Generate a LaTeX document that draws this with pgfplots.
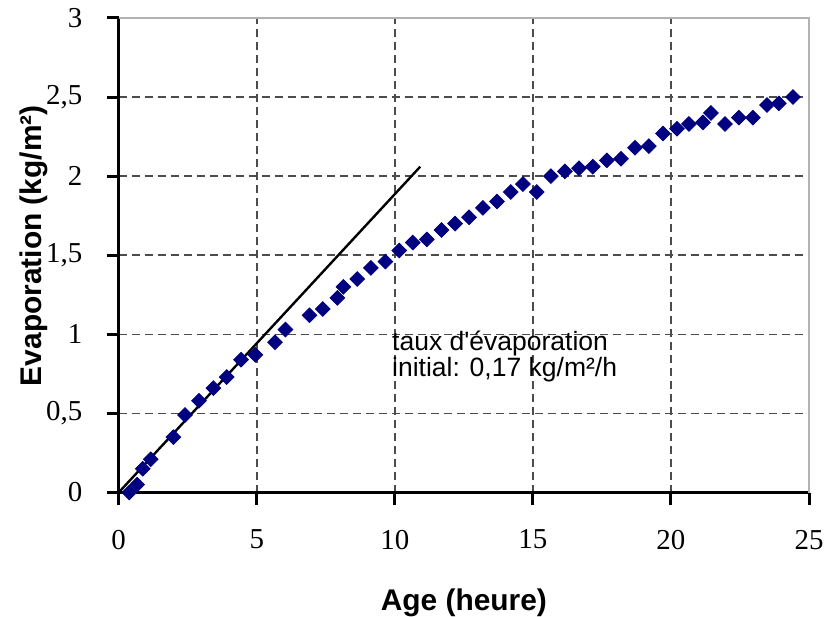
\documentclass[border=0pt]{standalone}
\usepackage{fontspec}
\setmainfont{Liberation Serif}
\setsansfont{Liberation Sans}
\newfontfamily\annot{Liberation Sans}[Ligatures=TeXOff]
\usepackage{pgfplots}
\pgfplotsset{compat=1.18}
\definecolor{navy}{RGB}{0,0,128}

\begin{document}
\begin{tikzpicture}
\begin{axis}[
    scale only axis,
    width=345.15bp, height=237.25bp,
    xmin=0, xmax=25, ymin=0, ymax=3,
    xtick={0,5,...,25},
    ytick={0,0.5,...,3},
    axis x line*=bottom,
    axis y line*=left,
    axis line style={line width=1.5bp, -},
    tick style={line width=1.5bp, black},
    tick align=outside,
    major tick length=6bp,
    grid=major,
    major grid style={black!70, line width=0.8bp, dash pattern=on 4bp off 2.5bp},
    /pgf/number format/use comma,
    /pgf/number format/assume math mode=true,
    ticklabel style={font=\fontsize{14.5}{17}\selectfont, inner sep=0pt},
    xticklabel style={yshift=-12.5bp},
    yticklabel style={xshift=-12bp},
    xlabel={Age (heure)},
    ylabel={Evaporation (kg/m²)},
    xlabel style={font=\sffamily\bfseries\fontsize{15}{18}\selectfont, inner sep=0pt,
        at={(axis description cs:0.5,-0.232)}, anchor=center},
    ylabel style={font=\sffamily\bfseries\fontsize{15}{18}\selectfont, inner sep=0pt,
        at={(axis description cs:-0.123,0.52)}, anchor=center, rotate=0},
    clip=false,
]
% bord gris haut et droite
\draw[gray!60, line width=1bp] (rel axis cs:0,1) -- (rel axis cs:1,1) -- (rel axis cs:1,0);

% tangente initiale
\addplot[black, line width=1.2bp] coordinates {(0,0) (10.92,2.06)};

% mesures
\addplot[only marks, mark=square*, mark size=2.6pt,
    mark options={rotate=45, fill=navy, draw=navy}] coordinates {
(0.38,0.00) (0.67,0.05) (0.87,0.15) (1.16,0.21) (1.98,0.35) (2.40,0.49)
(2.91,0.58) (3.43,0.66) (3.91,0.73) (4.43,0.84) (4.95,0.87) (5.66,0.95)
(6.04,1.03) (6.91,1.12) (7.39,1.16) (7.92,1.23) (8.14,1.30) (8.64,1.35)
(9.13,1.42) (9.66,1.46) (10.16,1.53) (10.65,1.58) (11.16,1.60) (11.69,1.66)
(12.18,1.70) (12.69,1.74) (13.19,1.80) (13.70,1.84) (14.20,1.90) (14.64,1.95)
(15.14,1.90) (15.65,2.00) (16.16,2.03) (16.67,2.05) (17.17,2.06) (17.68,2.10)
(18.19,2.11) (18.70,2.18) (19.20,2.19) (19.71,2.27) (20.22,2.30) (20.65,2.33)
(21.16,2.34) (21.45,2.40) (21.96,2.33) (22.46,2.37) (22.97,2.37) (23.48,2.45)
(23.91,2.46) (24.42,2.50)
};

\node[anchor=base west, inner sep=0, font=\annot\fontsize{13.3}{16}\selectfont]
    at (axis cs:9.89,0.895) {taux d'évaporation};
\node[anchor=base west, inner sep=0, font=\annot\fontsize{13.3}{16}\selectfont]
    at (axis cs:9.89,0.735) {initial: 0,17 kg/m²/h};

% cadre de la figure
\path ([shift={(-59.35bp,-62.25bp)}]rel axis cs:0,0) rectangle ([shift={(8bp,9bp)}]rel axis cs:1,1);
\end{axis}
\end{tikzpicture}
\end{document}
